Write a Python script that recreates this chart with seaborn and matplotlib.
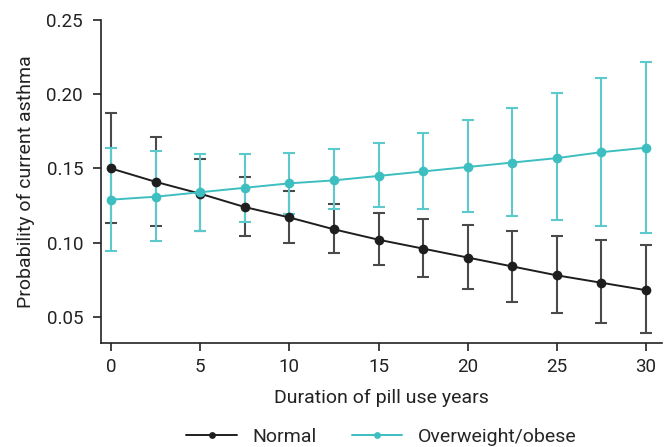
import numpy as np
import pandas as pd
import matplotlib
matplotlib.use("Agg")
import matplotlib.pyplot as plt
import seaborn as sns

sns.set_style("ticks")
plt.rcParams['font.family'] = ['Roboto', 'DejaVu Sans']

years = [0, 2.5, 5, 7.5, 10, 12.5, 15, 17.5, 20, 22.5, 25, 27.5, 30]

normal = [0.150, 0.141, 0.133, 0.124, 0.117, 0.109, 0.102, 0.096, 0.090, 0.084, 0.078, 0.073, 0.068]
normal_lo = [0.113, 0.111, 0.108, 0.1046, 0.0999, 0.0932, 0.0851, 0.077, 0.069, 0.060, 0.0528, 0.046, 0.0394]
normal_hi = [0.1874, 0.171, 0.1567, 0.1446, 0.1345, 0.126, 0.1203, 0.116, 0.112, 0.108, 0.1048, 0.102, 0.0986]

obese = [0.129, 0.131, 0.134, 0.137, 0.140, 0.142, 0.145, 0.148, 0.151, 0.154, 0.157, 0.161, 0.164]
obese_lo = [0.0945, 0.1013, 0.108, 0.114, 0.1195, 0.1227, 0.1242, 0.123, 0.121, 0.118, 0.1154, 0.111, 0.1067]
obese_hi = [0.164, 0.162, 0.160, 0.160, 0.1605, 0.163, 0.1674, 0.174, 0.1827, 0.191, 0.201, 0.211, 0.222]

groups = ["Normal", "Overweight/obese"]
colors = {"Normal": "#1e1e1e", "Overweight/obese": "#3dbec1"}
bar_colors = {"Normal": "#4a4a4a", "Overweight/obese": "#5ccacc"}

df = pd.DataFrame({
    "years": years * 2,
    "prob": normal + obese,
    "lo": normal_lo + obese_lo,
    "hi": normal_hi + obese_hi,
    "group": [groups[0]] * len(years) + [groups[1]] * len(years),
})

fig = plt.figure(figsize=(6.7, 4.47), dpi=100)
ax = fig.add_axes([0.151, 0.233, 0.837, 0.722])

# error bars first, lines on top
for g in groups:
    d = df[df.group == g]
    yerr = np.vstack([d.prob - d.lo, d.hi - d.prob])
    ax.errorbar(d.years, d.prob, yerr=yerr, fmt="none", ecolor=bar_colors[g],
                elinewidth=1.5, capsize=4, capthick=1.5, zorder=2)

sns.lineplot(data=df, x="years", y="prob", hue="group", palette=colors,
             marker="o", markersize=7, markeredgewidth=0, linewidth=1.4,
             ax=ax, zorder=3)

ax.set_xlim(-0.56, 30.9)
ax.set_ylim(0.0325, 0.25)
ax.set_xticks([0, 5, 10, 15, 20, 25, 30])
ax.set_yticks([0.05, 0.10, 0.15, 0.20, 0.25])
ax.set_yticklabels(["0.05", "0.10", "0.15", "0.20", "0.25"])
ax.tick_params(labelsize=13.5, colors="#222222", length=6, width=1.2)
ax.tick_params(axis="y", pad=7)
ax.tick_params(axis="x", pad=5)
ax.set_xlabel("Duration of pill use years", fontsize=14, color="#222222", labelpad=9)
ax.set_ylabel("Probability of current asthma", fontsize=14, color="#222222", labelpad=8)
for s in ["left", "bottom"]:
    ax.spines[s].set_linewidth(1.2)
    ax.spines[s].set_color("#222222")
sns.despine(ax=ax)

ax.legend(loc="upper center", bbox_to_anchor=(0.5, -0.24), ncol=2, frameon=False,
          fontsize=14, handlelength=2.6, columnspacing=1.8, markerscale=0.7,
          borderaxespad=0)

fig.savefig("out.png", dpi=100)
